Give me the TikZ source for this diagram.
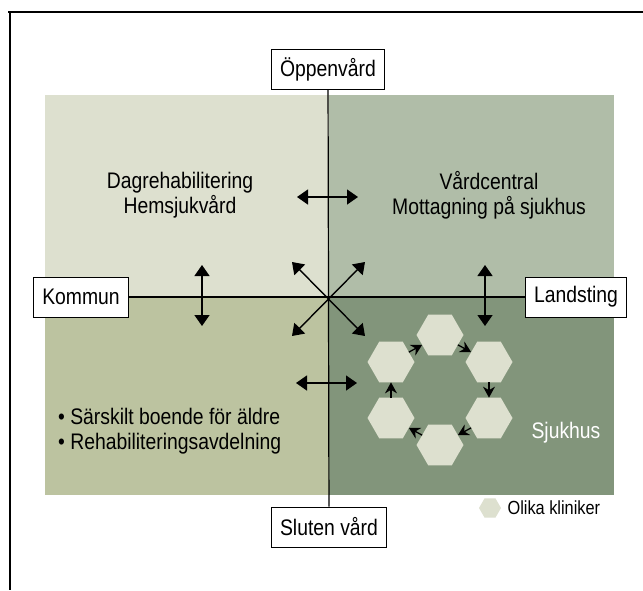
\documentclass[tikz,border=0pt]{standalone}
\usepackage{fontspec}
\setmainfont[FakeStretch=0.86]{Liberation Sans}
\usetikzlibrary{positioning}
\usetikzlibrary{arrows.meta}
\usetikzlibrary{shapes.geometric}
\definecolor{kvtl}{HTML}{DDE0CF}
\definecolor{kvtr}{HTML}{B0BDA8}
\definecolor{kvbl}{HTML}{BCC3A0}
\definecolor{kvbr}{HTML}{82957B}
\definecolor{hexfill}{HTML}{DDE0CF}
\tikzset{
  axisbox/.style={draw,fill=white,line width=1pt,inner xsep=9pt,minimum height=40pt},
  dblpil/.style={{Triangle[length=11pt,width=15pt]}-{Triangle[length=11pt,width=15pt]},line width=1.4pt},
  klinik/.style={regular polygon,regular polygon sides=6,minimum size=47pt,inner sep=0pt,outer sep=0pt,fill=hexfill},
  ringpil/.style={-{Stealth[length=11pt,width=12pt]},line width=1.3pt}
}
\begin{document}
\begin{tikzpicture}[x=1pt,y=-1pt,every node/.style={font=\fontsize{22.5}{25}\selectfont}]
    \useasboundingbox (0,0) rectangle (643,590);
    \fill[white] (0,0) rectangle (643,590);
    \draw[line width=1.5pt] (8,12) -- (643,12);
    \draw[line width=2pt] (10,12) -- (10,590);
    \fill[kvtl] (45,95) rectangle (329,298);
    \fill[kvtr] (329,95) rectangle (614,298);
    \fill[kvbl] (45,298) rectangle (329,495);
    \fill[kvbr] (329,298) rectangle (614,495);
    \node[axisbox] (oppen) at (328,69) {Öppenvård};
    \node[axisbox] (sluten) at (329,527) {Sluten vård};
    \node[axisbox] (kommun) at (81,297) {Kommun};
    \node[axisbox] (lands) at (576,297) {Landsting};
    \path[draw,line width=1.2pt] (oppen) -- (sluten);
    \path[draw,line width=1.2pt] (kommun) -- (lands);
    \coordinate (ov) at (292,262);
    \coordinate (oh) at (365,262);
    \coordinate (nv) at (292,336);
    \coordinate (nh) at (365,336);
    \draw[dblpil] (ov) -- (nh);
    \draw[dblpil] (oh) -- (nv);
    \coordinate (a1) at (297,197);
    \coordinate (a2) at (358,197);
    \coordinate (b1) at (296,383);
    \coordinate (b2) at (357,383);
    \coordinate (c1) at (202,265);
    \coordinate (c2) at (202,326);
    \coordinate (d1) at (485,265);
    \coordinate (d2) at (485,326);
    \draw[dblpil] (a1) -- (a2);
    \draw[dblpil] (b1) -- (b2);
    \draw[dblpil] (c1) -- (c2);
    \draw[dblpil] (d1) -- (d2);
    \node[align=center] (dag) at (180,195) {Dagrehabilitering\\Hemsjukvård};
    \node[align=center] (vard) at (489,195) {Vårdcentral\\Mottagning på sjukhus};
    \node[align=left,anchor=west,inner sep=0pt] (boende) at (58,431) {• Särskilt boende för äldre\\• Rehabiliteringsavdelning};
    \node[white] (sjuk) at (566,433) {Sjukhus};
    \node[klinik] (h1) at (440,335) {};
    \node[klinik] (h2) at (489,362) {};
    \node[klinik] (h3) at (489,418) {};
    \node[klinik] (h4) at (440,445) {};
    \node[klinik] (h5) at (391,418) {};
    \node[klinik] (h6) at (391,362) {};
    \foreach \a/\b in {h1/h2,h2/h3,h3/h4,h4/h5,h5/h6,h6/h1}
        \draw[ringpil] (\a) -- (\b);
    \node[klinik,minimum size=22pt] (leg) at (490,508) {};
    \node[right=3pt of leg,font=\fontsize{19}{22}\selectfont] (legtext) {Olika kliniker};
\end{tikzpicture}
\end{document}
